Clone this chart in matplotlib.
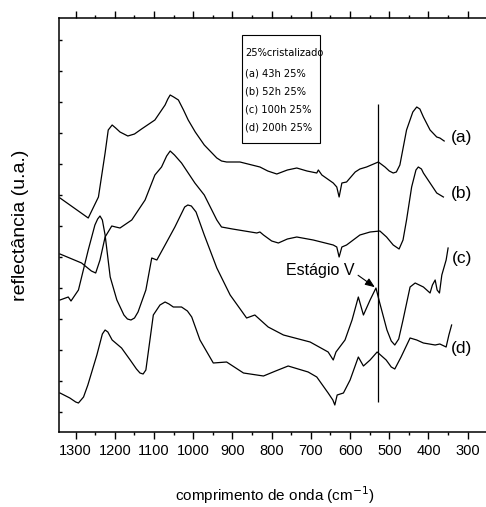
import numpy as np
import matplotlib
matplotlib.use("Agg")
import matplotlib.pyplot as plt
from matplotlib import font_manager
from matplotlib.font_manager import FontProperties
from matplotlib.patches import Rectangle
from matplotlib.ticker import MultipleLocator

plt.rcParams['font.family'] = ['Liberation Sans', 'DejaVu Sans']

# look for a condensed sans face for the small legend box
narrow_file = None
for f in font_manager.fontManager.ttflist:
    if 'Sans' not in f.name or 'Mono' in f.name:
        continue
    if not ('Narrow' in f.name or 'Condensed' in f.name or f.stretch == 'condensed'):
        continue
    if f.style != 'normal' or f.weight not in (400, 'normal', 'regular'):
        continue
    if narrow_file is None or 'Liberation' in f.name:
        narrow_file = f.fname


def nfont(size):
    if narrow_file:
        return FontProperties(fname=narrow_file, size=size)
    return FontProperties(family='Liberation Sans', size=size * 0.9)


# spectra (wavenumber cm-1, reflectance in arbitrary units)
wn_a = [1340, 1304, 1268, 1242, 1225, 1217, 1207, 1198, 1187, 1167, 1150, 1132, 1098, 1072,
        1065, 1059, 1050, 1038, 1025, 1013, 995, 972, 940, 928, 915, 881, 830, 810, 787,
        760, 736, 710, 685, 681, 672, 643, 634, 628, 621, 609, 587, 575, 558, 540, 528,
        511, 500, 490, 482, 473, 456, 440, 430, 422, 413, 396, 379, 371, 360]
r_a = [234, 224, 214, 235, 279, 302, 307, 304, 300, 296, 298, 303, 312, 327,
       333, 337, 335, 332, 322, 312, 300, 287, 274, 271, 270, 270, 265, 261, 258,
       262, 264, 261, 259, 262, 257, 249, 245, 235, 249, 250, 260, 263, 265, 268, 270,
       265, 261, 259, 260, 267, 302, 320, 325, 323, 315, 302, 295, 294, 291]

wn_b = [1340, 1285, 1260, 1249, 1238, 1225, 1208, 1198, 1187, 1157, 1123, 1098, 1081, 1068,
        1059, 1048, 1030, 996, 972, 940, 928, 900, 838, 830, 821, 800, 783, 760, 736, 694,
        643, 634, 628, 621, 609, 575, 549, 524, 507, 490, 475, 465, 456, 443, 432, 426,
        418, 413, 396, 379, 362]
r_b = [178, 169, 161, 159, 172, 195, 206, 205, 204, 212, 232, 257, 265, 276,
       281, 277, 269, 249, 237, 212, 205, 203, 199, 200, 197, 191, 189, 193, 195, 192,
       187, 185, 175, 185, 187, 197, 200, 201, 195, 187, 183, 192, 212, 245, 262, 265,
       263, 259, 249, 239, 235]

wn_c = [1340, 1319, 1312, 1293, 1268, 1251, 1244, 1238, 1232, 1225, 1212, 1195, 1177, 1168,
        1159, 1150, 1141, 1121, 1106, 1093, 1072, 1047, 1022, 1014, 1005, 993, 972, 940, 906,
        864, 843, 809, 770, 702, 656, 643, 636, 613, 595, 579, 566, 549, 534, 525, 506,
        495, 486, 476, 465, 447, 434, 413, 396, 390, 383, 378, 372, 366, 355, 350]
r_c = [132, 135, 131, 142, 182, 207, 213, 216, 212, 197, 155, 132, 117, 113,
       112, 114, 120, 142, 174, 172, 187, 205, 225, 227, 226, 220, 197, 164, 137,
       114, 117, 105, 97, 90, 80, 72, 80, 92, 112, 135, 117, 132, 144, 130, 102,
       91, 87, 93, 112, 145, 149, 145, 139, 147, 152, 142, 139, 157, 172, 184]

wn_d = [1340, 1315, 1300, 1293, 1280, 1269, 1246, 1232, 1225, 1218, 1207, 1183, 1161, 1145,
        1136, 1128, 1121, 1102, 1085, 1072, 1062, 1051, 1030, 1015, 1004, 983, 949, 915,
        872, 821, 790, 758, 707, 685, 656, 644, 639, 633, 617, 600, 579, 566, 549, 531,
        508, 495, 486, 470, 447, 430, 413, 383, 371, 355, 348, 341]
r_d = [39, 34, 30, 29, 35, 47, 77, 98, 102, 100, 92, 84, 72, 63,
       59, 58, 62, 117, 127, 130, 128, 125, 125, 121, 115, 92, 69, 70,
       59, 56, 61, 66, 60, 55, 39, 32, 27, 37, 39, 52, 75, 66, 72, 80,
       72, 65, 63, 75, 94, 92, 89, 87, 88, 85, 97, 107]

series = [(wn_a, r_a), (wn_b, r_b), (wn_c, r_c), (wn_d, r_d)]
curve_labels = ['(a)', '(b)', '(c)', '(d)']
label_wn = 315
label_r = [295, 239, 174, 83]

legend_lines = ['25%cristalizado', '(a) 43h 25%', '(b) 52h 25%', '(c) 100h 25%', '(d) 200h 25%']

stage_wn = 528          # vertical marker
stage_range = (30, 328)
stage_peak = (534, 144)  # peak of curve (c) marked "Estágio V"
stage_text = (677, 161)

fig = plt.figure(figsize=(4.86, 5.07), dpi=100)
W, H = 486, 507
ax = fig.add_axes([59 / W, (H - 432) / H, (490 - 59) / W, (432 - 18) / H])

for wn, r in series:
    ax.plot(wn, r, color='black', lw=0.9)

ax.vlines(stage_wn, stage_range[0], stage_range[1], color='black', lw=0.9)

for lab, yv in zip(curve_labels, label_r):
    ax.text(label_wn, yv, lab, fontsize=12.5, ha='center', va='center')

ax.annotate('Estágio V', xy=stage_peak, xytext=stage_text, fontsize=11.5,
            ha='center', va='center',
            arrowprops=dict(arrowstyle='-|>,head_length=0.5,head_width=0.2',
                            color='black', lw=0.8, relpos=(1.0, 0.4),
                            shrinkA=1, shrinkB=1))

# legend box
ax.add_patch(Rectangle((0.424, 0.697), 0.1816, 0.262, transform=ax.transAxes,
                       fill=False, edgecolor='black', lw=0.8))
ys = [0.9155, 0.8671, 0.8225, 0.7778, 0.7343]
for t, yy in zip(legend_lines, ys):
    ax.text(0.4316, yy, t, transform=ax.transAxes, fontproperties=nfont(7.9),
            ha='left', va='center')

ax.set_xlim(1342.6, 243.1)
ax.set_ylim(0, 414)

ax.xaxis.set_major_locator(MultipleLocator(100))
ax.xaxis.set_minor_locator(MultipleLocator(50))
ax.set_yticks(np.arange(19.7, 400, 31))
ax.set_yticklabels([])
ax.tick_params(axis='x', which='major', direction='out', length=5, width=1,
               top=True, labeltop=False, labelsize=10.5, pad=3.5)
ax.tick_params(axis='x', which='minor', direction='out', length=2.5, width=1, top=True)
ax.tick_params(axis='y', which='major', direction='in', length=2.5, width=1, right=False)

for s in ['left', 'bottom', 'top']:
    ax.spines[s].set_linewidth(1.1)
ax.spines['right'].set_visible(False)

fig.text(20.7 / W, 1 - 225 / H, 'reflectância (u.a.)', rotation=90, fontsize=14,
         ha='center', va='center')
fig.text(275 / W, 1 - 495 / H, 'comprimento de onda (cm$^{-1}$)', fontsize=11,
         ha='center', va='center')

fig.savefig('out.png', dpi=100)
